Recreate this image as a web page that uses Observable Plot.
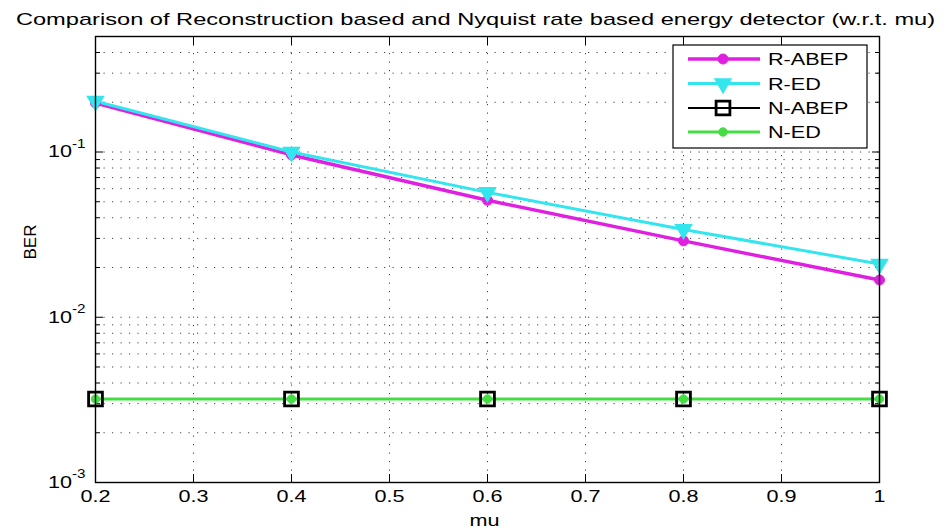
<!DOCTYPE html>
<html><head><meta charset="utf-8">
<script src="https://cdn.jsdelivr.net/npm/d3@7"></script>
<script src="https://cdn.jsdelivr.net/npm/@observablehq/plot@0.6"></script>
<style>
html,body{margin:0;padding:0;background:#fff;}
#chart{width:947px;height:531px;overflow:hidden;}
</style></head><body><div id="chart"></div>
<script>
// ---- data ----
const mu = [0.2, 0.4, 0.6, 0.8, 1.0];
const rAbep = [0.198, 0.096, 0.051, 0.029, 0.0168];
const rEd = [0.203, 0.100, 0.057, 0.034, 0.021];
const nAbep = [0.0032, 0.0032, 0.0032, 0.0032, 0.0032];
const nEd = [0.0032, 0.0032, 0.0032, 0.0032, 0.0032];
const seriesNames = ["R-ABEP", "R-ED", "N-ABEP", "N-ED"];
const xTicks = [0.2, 0.3, 0.4, 0.5, 0.6, 0.7, 0.8, 0.9, 1];
const xTickLabels = ["0.2", "0.3", "0.4", "0.5", "0.6", "0.7", "0.8", "0.9", "1"];
const yMajorTicks = [0.001, 0.01, 0.1];
const yTickBase = ["10", "10", "10"];
const yTickExp = ["-3", "-2", "-1"];
const yMinorTicks = [0.002, 0.003, 0.004, 0.005, 0.006, 0.007, 0.008, 0.009,
                     0.02, 0.03, 0.04, 0.05, 0.06, 0.07, 0.08, 0.09,
                     0.2, 0.3, 0.4];
const titleText = "Comparison of Reconstruction based and Nyquist rate based energy detector (w.r.t. mu)";
const xLabel = "mu";
const yLabel = "BER";

// ---- table ----
const seriesValues = [rAbep, rEd, nAbep, nEd];
const rows = [];
seriesNames.forEach((s, k) => mu.forEach((m, i) => rows.push({series: s, mu: m, ber: seriesValues[k][i]})));

// ---- styles ----
const triangleDown = {
  draw(context, size) {
    const y = Math.sqrt(size / (Math.sqrt(3) * 3));
    context.moveTo(0, 2 * y);
    context.lineTo(-Math.sqrt(3) * y, -y);
    context.lineTo(Math.sqrt(3) * y, -y);
    context.closePath();
  }
};
const styles = {
  "R-ABEP": {color: "#e020e0", width: 3.5, symbol: "circle", r: 5, fill: "#e020e0", sw: 1},
  "R-ED":   {color: "#33e6ee", width: 3,   symbol: triangleDown, r: 5.9, fill: "#33e6ee", sw: 1.5},
  "N-ABEP": {color: "#000000", width: 2,   symbol: "square", r: 7.8, fill: "none", sw: 2.8},
  "N-ED":   {color: "#44dd44", width: 3,   symbol: "circle", r: 4.2, fill: "#44dd44", sw: 1}
};

const gridStyle = {stroke: "#222", strokeWidth: 1, strokeDasharray: "1.2,7.3", strokeOpacity: 0.85};

const seriesMarks = [];
for (const s of seriesNames) {
  const st = styles[s];
  const data = rows.filter(d => d.series === s);
  seriesMarks.push(Plot.line(data, {x: "mu", y: "ber", stroke: st.color, strokeWidth: st.width}));
}
for (const s of seriesNames) {
  const st = styles[s];
  const data = rows.filter(d => d.series === s);
  seriesMarks.push(Plot.dot(data, {x: "mu", y: "ber", symbol: () => st.symbol, r: st.r,
    fill: st.fill, stroke: st.color, strokeWidth: st.sw}));
}

const chart = Plot.plot({
  width: 947,
  height: 531,
  marginTop: 36,
  marginBottom: 49,
  marginLeft: 95,
  marginRight: 68,
  style: {fontFamily: "'Liberation Sans', Arial, sans-serif", fontSize: "17px", color: "#000", background: "#fff"},
  symbol: {type: "identity"},
  x: {domain: [0.2, 1]},
  y: {type: "log", domain: [0.001, 0.5]},
  marks: [
    Plot.gridX(xTicks.slice(1, -1), gridStyle),
    Plot.gridY([...yMajorTicks.slice(1), ...yMinorTicks], gridStyle),
    Plot.axisX(xTicks, {anchor: "bottom", tickSize: -8, tickPadding: 15, label: null,
      tickFormat: d => xTickLabels[xTicks.indexOf(d)], fontSize: 17}),
    Plot.axisX(xTicks, {anchor: "top", tickSize: -8, tickFormat: () => "", label: null}),
    Plot.axisY(yMajorTicks, {anchor: "left", tickSize: -8, tickPadding: 18, label: null,
      tickFormat: d => { const i = yMajorTicks.indexOf(d); return yTickBase[i] + "^" + yTickExp[i]; }, fontSize: 17}),
    Plot.axisY(yMinorTicks, {anchor: "left", tickSize: -5, tickFormat: () => "", label: null}),
    Plot.axisY(yMajorTicks, {anchor: "right", tickSize: -8, tickFormat: () => "", label: null}),
    Plot.axisY(yMinorTicks, {anchor: "right", tickSize: -5, tickFormat: () => "", label: null}),
    ...seriesMarks,
    Plot.frame({stroke: "#000", strokeWidth: 1.4}),
    Plot.text([titleText], {frameAnchor: "top", dy: -17, dx: -12, fontSize: 17, lineAnchor: "middle"}),
    Plot.text([xLabel], {frameAnchor: "bottom", dy: 38, dx: -3, fontSize: 17, lineAnchor: "middle"}),
    Plot.text([yLabel], {frameAnchor: "left", dx: -65, rotate: -90, fontSize: 17, lineAnchor: "middle"})
  ]
});

document.getElementById("chart").appendChild(chart);
const svg = d3.select(chart);

// superscript tick labels
svg.selectAll('g[aria-label="y-axis tick label"] text').each(function() {
  const t = d3.select(this);
  const txt = this.textContent;
  if (!txt.includes("^")) return;
  const [b, e] = txt.split("^");
  t.text(null);
  t.append("tspan").text(b);
  t.append("tspan").attr("dy", "-0.8em").attr("font-size", "12px").text(e);
});

// legend
const lg = svg.append("g").attr("font-family", "'Liberation Sans', Arial, sans-serif")
  .attr("font-size", "17px").attr("text-anchor", "start");
lg.append("rect").attr("x", 673).attr("y", 45).attr("width", 194).attr("height", 103)
  .attr("fill", "#fff").attr("stroke", "#000").attr("stroke-width", 1.2);
const legendY = [59, 83.5, 108, 132];
seriesNames.forEach((s, i) => {
  const st = styles[s];
  const y = legendY[i];
  lg.append("line").attr("x1", 688).attr("x2", 760).attr("y1", y).attr("y2", y)
    .attr("stroke", st.color).attr("stroke-width", st.width);
  const sym = typeof st.symbol === "string"
    ? (st.symbol === "circle" ? d3.symbolCircle : d3.symbolSquare) : st.symbol;
  lg.append("path").attr("d", d3.symbol(sym, Math.PI * st.r * st.r)())
    .attr("transform", `translate(723,${y})`)
    .attr("fill", st.fill).attr("stroke", st.color).attr("stroke-width", st.sw);
  lg.append("text").attr("x", 768).attr("y", y).attr("dy", "0.36em").attr("text-anchor", "start").text(s);
});

// horizontal stretch of texts about their anchor x (reference is stretched)
svg.selectAll("text").each(function() {
  const tr = this.getAttribute("transform") || "";
  if (tr.includes("rotate")) return;
  const xa = this.getAttribute("x");
  const ax = (xa && !/em/.test(xa)) ? parseFloat(xa) || 0 : 0;
  const k = this.textContent === titleText ? 1.39 : 1.27;
  this.setAttribute("transform", `${tr} translate(${ax},0) scale(${k},1) translate(${-ax},0)`);
});
</script>
</body></html>
